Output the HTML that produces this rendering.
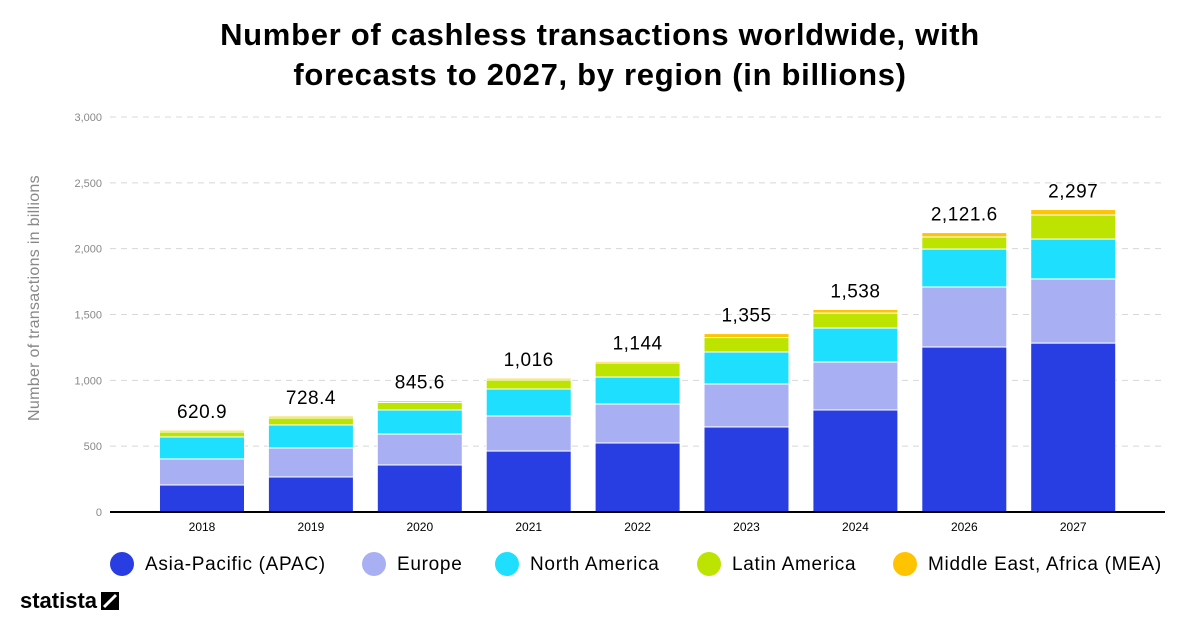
<!DOCTYPE html>
<html><head><meta charset="utf-8"><style>
body{margin:0;background:#fff;width:1200px;height:630px;overflow:hidden;font-family:"Liberation Sans",sans-serif}
</style></head><body>
<svg id="chart" width="1200" height="630">
<text x="600" y="45" text-anchor="middle" font-size="31" font-weight="bold" letter-spacing="0.7" fill="#000">Number of cashless transactions worldwide, with</text>
<text x="600" y="85" text-anchor="middle" font-size="31" font-weight="bold" letter-spacing="0.7" fill="#000">forecasts to 2027, by region (in billions)</text>
<text transform="translate(39,298) rotate(-90)" text-anchor="middle" font-size="16" letter-spacing="0.3" fill="#888">Number of transactions in billions</text>
<g id="grid"></g><g id="bars"></g><g id="labels"></g>
<line x1="110" y1="512" x2="1165" y2="512" stroke="#000" stroke-width="2"/>
<g id="legend"></g>
<text x="20" y="608" font-size="22" font-weight="bold" fill="#000">statista</text>
<path d="M101 592h18v18h-18z" fill="#000"/>
<path d="M104 607l12-12" stroke="#fff" stroke-width="3"/>
</svg>
<script>
const categories=["2018","2019","2020","2021","2022","2023","2024","2026","2027"];
const apac=[205,266,357,463,524,646,775,1253,1283];
const europe=[198,220,235,266,296,326,364,456,487];
const northAmerica=[167,175,183,205,205,243,258,288,303];
const latinAmerica=[38,53,58,69,107,110,114,92,183];
const mea=[13,14,13,13,12,30,27,33,41];
const totalLabels=["620.9","728.4","845.6","1,016","1,144","1,355","1,538","2,121.6","2,297"];
const yTicks=[0,500,1000,1500,2000,2500,3000];
const seriesNames=["Asia-Pacific (APAC)","Europe","North America","Latin America","Middle East, Africa (MEA)"];
const colors=["#283ee2","#a8b0f3","#1edffe","#bce400","#ffc300"];
const series=[apac,europe,northAmerica,latinAmerica,mea];
const NS="http://www.w3.org/2000/svg";
const y=v=>512-v*(395/3000);
const x=i=>202+i*108.9;
const bw=85;
function mk(t,a,p){const e=document.createElementNS(NS,t);for(const k in a)e.setAttribute(k,a[k]);p.appendChild(e);return e;}
const grid=document.getElementById('grid');
yTicks.forEach(t=>{
 if(t>0){const l=mk('line',{x1:110,x2:1165,y1:y(t),y2:y(t),stroke:'#d8d8d8','stroke-dasharray':'6,5'},grid);
 
 }
 const tx=mk('text',{x:102,y:y(t)+4,'text-anchor':'end','font-size':11,fill:'#888'},grid);
 tx.textContent=t.toLocaleString('en-US');
 
 
});
const bars=document.getElementById('bars'),labels=document.getElementById('labels');
categories.forEach((c,i)=>{
 let acc=0;
 series.forEach((s,k)=>{
  const r=mk('rect',{x:x(i)-bw/2,y:y(acc+s[i]),width:bw,height:y(acc)-y(acc+s[i]),fill:colors[k],stroke:'#fff','stroke-width':1},bars);
  
  
  acc+=s[i];
 });
 const tl=mk('text',{x:x(i),y:y(acc)-12,'text-anchor':'middle','font-size':19,'letter-spacing':0.5,fill:'#000'},labels);
 tl.textContent=totalLabels[i];
 
 
 const xl=mk('text',{x:x(i),y:531,'text-anchor':'middle','font-size':12,fill:'#000'},labels);
 xl.textContent=c;
 
 
});
const lg=document.getElementById('legend');
const lx=[122,374,507,709,905];
seriesNames.forEach((n,k)=>{
 const ci=mk('circle',{cx:lx[k],cy:564,r:12,fill:colors[k]},lg);
 
 
 const t=mk('text',{x:lx[k]+23,y:570,'font-size':19,'letter-spacing':0.7,fill:'#000'},lg);
 t.textContent=n;
 
 
});
</script>
</body></html>
